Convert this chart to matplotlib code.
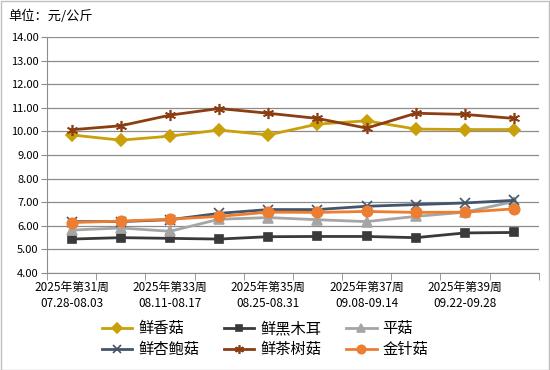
import matplotlib.pyplot as plt
import numpy as np
from matplotlib.patches import Rectangle

plt.rcParams["font.family"] = ["Noto Sans CJK SC", "DejaVu Sans"]

weeks = ["2025年第31周\n07.28-08.03", "2025年第32周\n08.04-08.10", "2025年第33周\n08.11-08.17",
         "2025年第34周\n08.18-08.24", "2025年第35周\n08.25-08.31", "2025年第36周\n09.01-09.07",
         "2025年第37周\n09.08-09.14", "2025年第38周\n09.15-09.21", "2025年第39周\n09.22-09.28",
         "2025年第40周\n09.29-10.05"]

xianggu = [9.85, 9.63, 9.80, 10.06, 9.85, 10.31, 10.45, 10.10, 10.08, 10.08]
heimuer = [5.44, 5.50, 5.47, 5.44, 5.54, 5.55, 5.55, 5.50, 5.70, 5.72]
pinggu = [5.82, 5.91, 5.77, 6.28, 6.35, 6.26, 6.18, 6.40, 6.58, 7.03]
xingbaogu = [6.18, 6.18, 6.26, 6.53, 6.69, 6.69, 6.83, 6.90, 6.97, 7.08]
chashugu = [10.07, 10.24, 10.69, 10.97, 10.77, 10.55, 10.14, 10.77, 10.72, 10.55]
jinzhengu = [6.14, 6.20, 6.28, 6.40, 6.58, 6.57, 6.61, 6.57, 6.58, 6.72]

series = [
    ("鲜香菇", xianggu, "#C9A00A", "D", 6),
    ("鲜黑木耳", heimuer, "#3A3A3A", "s", 5.5),
    ("平菇", pinggu, "#A5A5A5", "^", 6.5),
    ("鲜杏鲍菇", xingbaogu, "#44546A", "x", 7),
    ("鲜茶树菇", chashugu, "#8B3E12", (6, 2, 0), 8),
    ("金针菇", jinzhengu, "#ED7D31", "o", 7.5),
]

fig = plt.figure(figsize=(5.5, 3.7), dpi=100)
fig.patches.append(Rectangle((0.001, 0.001), 0.997, 0.997, transform=fig.transFigure,
                             fill=False, edgecolor="#BFBFBF", linewidth=1))
ax = fig.add_axes([0.0855, 0.262, 0.894, 0.638])

x = np.arange(len(weeks))
lines = []
for name, vals, color, marker, ms in series:
    ln, = ax.plot(x, vals, color=color, linewidth=2, marker=marker, markersize=ms,
                  markeredgecolor=color, markeredgewidth=1.2, label=name, zorder=3)
    lines.append(ln)

ax.set_xlim(-0.5, len(weeks) - 0.5)
ax.set_ylim(4, 14)
ax.set_yticks(np.arange(4, 14.1, 1))
ax.set_yticklabels([f"{v:.2f}" for v in np.arange(4, 14.1, 1)], fontsize=8)
ax.yaxis.grid(True, color="#8C8C8C", linewidth=0.9)
ax.set_axisbelow(True)
ax.tick_params(axis="y", length=4, color="#8C8C8C", pad=2)

ax.set_xticks(x)
ax.set_xticklabels([w if i % 2 == 0 else "" for i, w in enumerate(weeks)], fontsize=8.5,
                   linespacing=1.25)
ax.tick_params(axis="x", which="major", length=0, pad=6)
ax.set_xticks(np.arange(-0.5, len(weeks), 1), minor=True)
ax.tick_params(axis="x", which="minor", length=5, color="#8C8C8C")

for s in ["top", "right"]:
    ax.spines[s].set_visible(False)
for s in ["left", "bottom"]:
    ax.spines[s].set_color("#8C8C8C")

fig.text(0.015, 0.955, "单位：元/公斤", fontsize=9.5, va="center", ha="left")

# row-wise legend order
order = [0, 3, 1, 4, 2, 5]
leg = fig.legend([lines[i] for i in order], [series[i][0] for i in order],
                 loc="lower center", bbox_to_anchor=(0.482, -0.005), ncol=3, frameon=False,
                 fontsize=11, columnspacing=1.6, handlelength=2.0, handletextpad=0.4,
                 labelspacing=0.25, markerscale=0.8)

fig.savefig("out.png", dpi=100)
